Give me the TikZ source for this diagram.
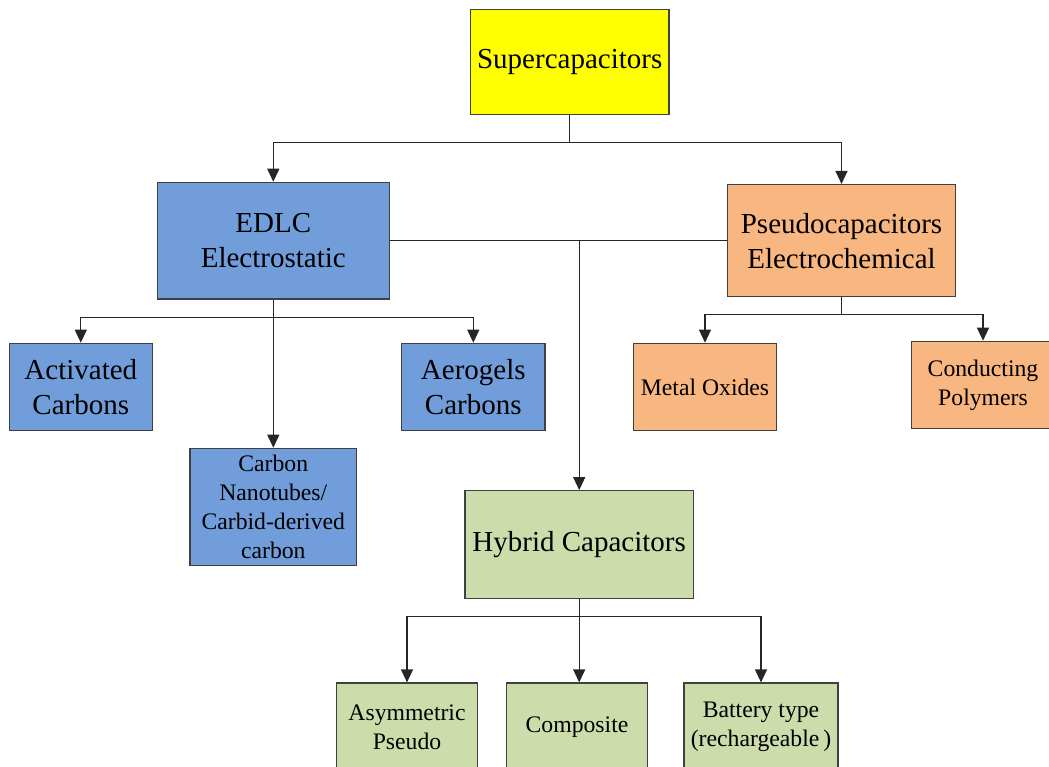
\documentclass[tikz,border=0pt]{standalone}
\usepackage{fontspec}
\setmainfont{LiberationSerif}[Extension=.ttf,UprightFont=*-Regular,BoldFont=*-Bold]
\usepackage{tikz}
\usetikzlibrary{arrows.meta}
\definecolor{supyellow}{RGB}{255,255,0}
\definecolor{edlcblue}{RGB}{113,158,218}
\definecolor{pseudoorange}{RGB}{248,182,128}
\definecolor{hybridgreen}{RGB}{204,220,170}

\begin{document}
\begin{tikzpicture}[x=1pt,y=-1pt]
\tikzset{box/.style=
            {draw=black!75,line width=1.2pt,inner sep=0pt,align=center},
         bigtext/.style=
            {font=\rmfamily\fontsize{29}{35}\selectfont},
         smalltext/.style=
            {font=\rmfamily\fontsize{23.7}{29}\selectfont},
         conn/.style=
            {draw=black!85,line width=1.2pt},
         arr/.style=
            {conn,-{Triangle[width=12pt,length=13pt]}}}
\useasboundingbox (0,0) rectangle (1049,767);
\node[box,bigtext,fill=supyellow,minimum width=198.5pt,minimum height=105.4pt] (sup) at (569.7,62) {Supercapacitors};
\node[box,bigtext,fill=edlcblue,minimum width=232pt,minimum height=116.7pt] (edlc) at (273.3,240.7) {EDLC\\Electrostatic};
\node[box,bigtext,fill=pseudoorange,minimum width=228.4pt,minimum height=112.3pt] (pseudo) at (841.5,240.7) {Pseudocapacitors\\Electrochemical};
\node[box,bigtext,fill=edlcblue,minimum width=143pt,minimum height=87.4pt] (activ) at (80.8,387) {Activated\\Carbons};
\node[box,bigtext,fill=edlcblue,minimum width=143.3pt,minimum height=87.4pt] (aero) at (473.3,387) {Aerogels\\Carbons};
\node[box,smalltext,fill=edlcblue,minimum width=166.7pt,minimum height=117.4pt] (cnt) at (273.3,507) {Carbon\\Nanotubes/\\Carbid-derived\\carbon};
\node[box,smalltext,fill=pseudoorange,minimum width=143.4pt,minimum height=87.4pt] (metal) at (705,387) {Metal Oxides};
\node[box,smalltext,fill=pseudoorange,minimum width=142.6pt,minimum height=87.4pt] (cond) at (983,385) {Conducting\\Polymers};
\node[box,bigtext,fill=hybridgreen,minimum width=228.3pt,minimum height=107.6pt] (hybrid) at (579.2,544.5) {Hybrid Capacitors};
\node[box,smalltext,fill=hybridgreen,minimum width=140.3pt,minimum height=88pt] (asym) at (407,727) {Asymmetric\\Pseudo};
\node[box,smalltext,fill=hybridgreen,minimum width=140.3pt,minimum height=88pt] (comp) at (577,727) {Composite};
\node[box,smalltext,fill=hybridgreen,minimum width=154pt,minimum height=88pt] (batt) at (761,727) {Battery type\\(rechargeable\,)};
\coordinate (supfork) at ([yshift=-27.3pt]sup.south);
\coordinate (edlcfork) at ([yshift=-18pt]edlc.south);
\coordinate (pseudofork) at ([yshift=-17.3pt]pseudo.south);
\coordinate (hybridfork) at ([yshift=-17.7pt]hybrid.south);
\draw[conn] (sup.south) -- (supfork);
\draw[arr] (supfork) -| (edlc.north);
\draw[arr] (supfork) -| (pseudo.north);
\draw[conn] (edlc.east) -- (pseudo.west);
\draw[arr] (hybrid.north |- edlc.east) -- (hybrid.north);
\draw[arr] (edlc.south) -- (cnt.north);
\draw[arr] (edlcfork) -| (activ.north);
\draw[arr] (edlcfork) -| (aero.north);
\draw[conn] (pseudo.south) -- (pseudofork);
\draw[arr] (pseudofork) -| (metal.north);
\draw[arr] (pseudofork) -| (cond.north);
\draw[conn] (hybrid.south) -- (hybridfork);
\draw[arr] (hybridfork) -| (asym.north);
\draw[arr] (hybridfork) -- (hybridfork |- comp.north);
\draw[arr] (hybridfork) -| (batt.north);
\end{tikzpicture}
\end{document}
